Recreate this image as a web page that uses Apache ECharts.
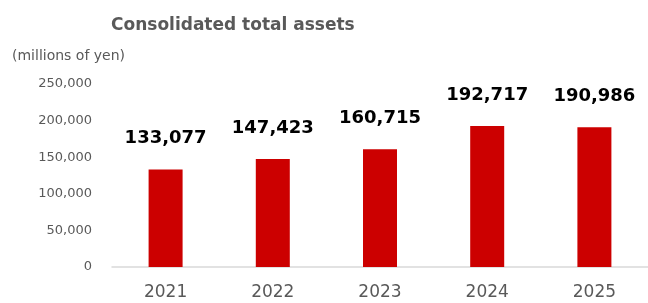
<!DOCTYPE html>
<html>
<head>
<meta charset="utf-8">
<script src="https://cdn.jsdelivr.net/npm/echarts@6/dist/echarts.min.js"></script>
<style>
  html, body { margin: 0; padding: 0; background: #fff; }
  #main { width: 648px; height: 303px; }
</style>
</head>
<body>
<div id="main"></div>
<script>
// data
var years = ['2021', '2022', '2023', '2024', '2025'];
var totalAssets = [133077, 147423, 160715, 192717, 190986];
var yTicks = [0, 50000, 100000, 150000, 200000, 250000];

var myChart = echarts.init(document.getElementById('main'));
var grey = '#595959';
var font = 'Verdana, "DejaVu Sans", sans-serif';

function fmt(v) {
  return v.toLocaleString('en-US');
}

var option = {
  animation: false,
  title: {
    text: 'Consolidated total assets',
    left: 106,
    top: 12,
    textStyle: { fontFamily: font, fontSize: 17, fontWeight: 'bold', color: grey }
  },
  graphic: [
    {
      type: 'text',
      left: 12,
      top: 49,
      style: { text: '(millions of yen)', font: '14px ' + font, fill: grey }
    }
  ],
  grid: { left: 112, right: -5, top: 84, bottom: 36, containLabel: false },
  xAxis: {
    type: 'category',
    data: years,
    axisLine: { show: true, lineStyle: { color: '#d9d9d9', width: 1.5 } },
    axisTick: { show: false },
    axisLabel: { color: grey, fontFamily: font, fontSize: 17, margin: 17 }
  },
  yAxis: {
    type: 'value',
    min: yTicks[0],
    max: yTicks[yTicks.length - 1],
    interval: yTicks[1] - yTicks[0],
    axisLine: { show: false },
    axisTick: { show: false },
    splitLine: { show: false },
    axisLabel: {
      color: grey,
      fontFamily: font,
      fontSize: 13,
      margin: 20,
      formatter: function (v) { return fmt(v); }
    }
  },
  series: [
    {
      type: 'bar',
      data: totalAssets,
      barWidth: 34,
      itemStyle: { color: '#cc0000' },
      label: {
        show: true,
        position: 'top',
        distance: 22,
        color: '#000',
        fontFamily: font,
        fontSize: 18,
        fontWeight: 'bold',
        formatter: function (p) { return fmt(p.value); }
      }
    }
  ]
};
myChart.setOption(option, true);
</script>
</body>
</html>
